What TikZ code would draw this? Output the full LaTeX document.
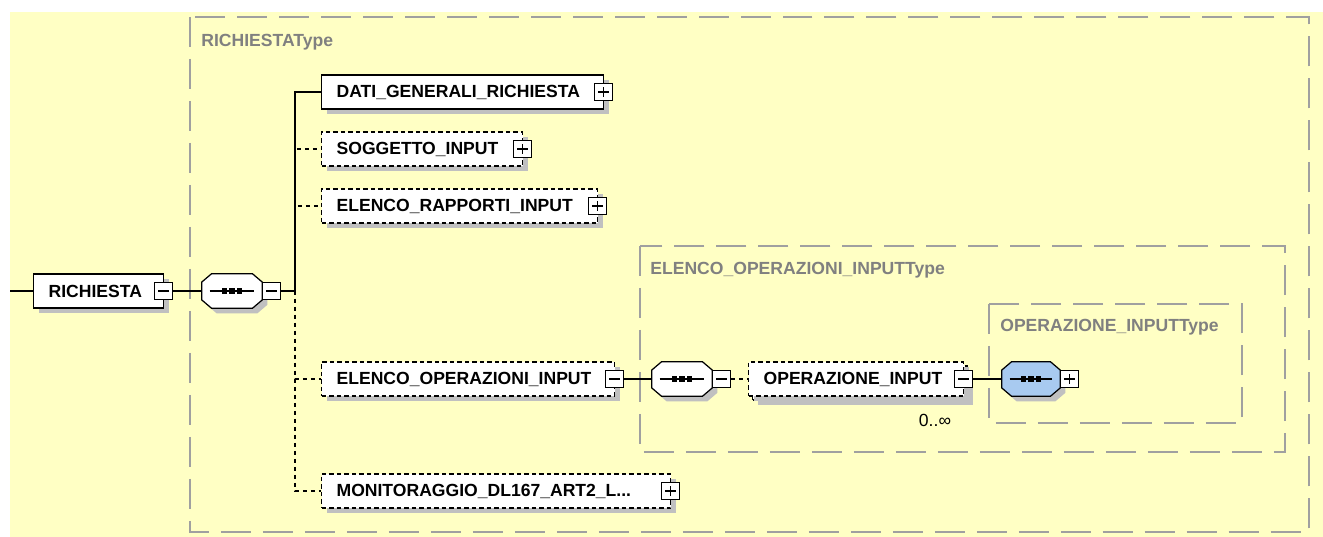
\documentclass[tikz,border=0pt]{standalone}
\usepackage{fontspec}
\setmainfont{Liberation Sans}
\usepackage{tikz}
\usetikzlibrary{shadows}
\definecolor{paper}{RGB}{255,255,196}
\definecolor{typegray}{RGB}{160,160,160}
\definecolor{labelgray}{RGB}{128,128,128}
\definecolor{shadowgray}{RGB}{192,192,192}
\definecolor{seqblue}{RGB}{168,202,240}
\tikzset{
  shad/.style={drop shadow={shadow xshift=0.1cm, shadow yshift=-0.1cm, fill=shadowgray, opacity=1}},
  elem/.style={draw, fill=white, rectangle, anchor=west, minimum height=0.68cm, inner xsep=0.3cm, inner ysep=0pt, align=left, font=\bfseries\fontsize{10}{12}\selectfont, line width=0.7pt, shad},
  optelem/.style={elem, dash pattern=on 0.09cm off 0.06cm},
  pmbox/.style={draw, fill=white, rectangle, anchor=west, minimum width=0.36cm, minimum height=0.34cm, inner sep=0pt, line width=0.6pt},
  minusbox/.style={pmbox, path picture={\draw ([xshift=0.07cm]path picture bounding box.west) -- ([xshift=-0.07cm]path picture bounding box.east);}},
  plusbox/.style={pmbox, path picture={\draw ([xshift=0.07cm]path picture bounding box.west) -- ([xshift=-0.07cm]path picture bounding box.east);
                                      \draw ([yshift=0.07cm]path picture bounding box.south) -- ([yshift=-0.07cm]path picture bounding box.north);}},
  seqbox/.style={rectangle, minimum width=1.2cm, minimum height=0.68cm, inner sep=0pt},
  typebox/.style={draw=typegray, line width=1.1pt, dash pattern=on 0.6cm off 0.24cm},
  typelabel/.style={anchor=west, text=labelgray, font=\bfseries\fontsize{10}{12}\selectfont, inner sep=0pt},
  conn/.style={line width=0.6pt},
  optconn/.style={conn, dash pattern=on 0.08cm off 0.08cm}
}
\newcommand\seqoct[2]{%
  \foreach \shx/\col in {0.1/shadowgray, 0/#2}
    \filldraw[fill=\col, draw=\ifdim\shx pt>0pt none\else black\fi, line width=0.7pt, transform canvas={shift={(\shx cm,-\shx cm)}}]
      ([xshift=0.2cm]#1.north west) -- ([xshift=-0.2cm]#1.north east) -- ([yshift=-0.17cm]#1.north east)
      -- ([yshift=0.17cm]#1.south east) -- ([xshift=-0.2cm]#1.south east) -- ([xshift=0.2cm]#1.south west)
      -- ([yshift=0.17cm]#1.south west) -- ([yshift=-0.17cm]#1.north west) -- cycle;
  \draw[line width=0.7pt] ([xshift=0.16cm]#1.west) -- ([xshift=-0.16cm]#1.east);
  \foreach \dx in {-0.15,0,0.15}
    \fill ([xshift=\dx cm]#1.center) ++(-0.055cm,-0.055cm) rectangle ++(0.11cm,0.11cm);
}
\begin{document}
\begin{tikzpicture}[x=0.02cm, y=-0.02cm]
  \useasboundingbox (0,0) rectangle (1323,537);
  \fill[white] (0,0) rectangle (1323,537);
  \fill[paper] (10,12) rectangle (1323,537);

  \draw[typebox] (190,17) rectangle (1309,532);
  \draw[typebox] (640,246) rectangle (1285,452);
  \draw[typebox] (989,304) rectangle (1242,423);
  \node (richtype) at (201,42)[typelabel]{RICHIESTAType};
  \node (elopType) at (650,270)[typelabel]{ELENCO\_OPERAZIONI\_INPUTType};
  \node (opType) at (1000,327)[typelabel]{OPERAZIONE\_INPUTType};

  \coordinate (entry) at (10,291);
  \coordinate (trunk) at (295,291);

  \node (richiesta) at (33,291)[elem, text width=2.0cm]{RICHIESTA};
  \node (richm) at ([xshift=-0.2cm]richiesta.east)[minusbox]{};
  \node (seq1) at (232,291)[seqbox]{};
  \seqoct{seq1}{white}
  \node (seq1m) at (seq1.east)[minusbox]{};

  \node (dati) at (321,92)[elem, text width=5.04cm]{DATI\_GENERALI\_RICHIESTA};
  \node (datip) at ([xshift=-0.2cm]dati.east)[plusbox]{};
  \node (sogg) at (321,149)[optelem, text width=3.42cm]{SOGGETTO\_INPUT};
  \node (soggp) at ([xshift=-0.2cm]sogg.east)[plusbox]{};
  \node (elrap) at (321,206)[optelem, text width=4.92cm]{ELENCO\_RAPPORTI\_INPUT};
  \node (elrapp) at ([xshift=-0.2cm]elrap.east)[plusbox]{};
  \node (elop) at (321,379)[optelem, text width=5.26cm]{ELENCO\_OPERAZIONI\_INPUT};
  \node (elopm) at ([xshift=-0.2cm]elop.east)[minusbox]{};
  \node (monit) at (321,491)[optelem, text width=6.38cm]{MONITORAGGIO\_DL167\_ART2\_L...};
  \node (monitp) at ([xshift=-0.2cm]monit.east)[plusbox]{};

  \node (seq2) at (682,379)[seqbox]{};
  \seqoct{seq2}{white}
  \node (seq2m) at (seq2.east)[minusbox]{};
  \node (opback) at (752,383)[optelem, minimum width=4.3cm]{};
  \node (opin) at (748,379)[optelem, text width=3.7cm]{OPERAZIONE\_INPUT};
  \node (opinm) at ([xshift=-0.2cm]opin.east)[minusbox]{};
  \node (occurs) at (935,420)[font=\fontsize{10}{12}\selectfont, inner sep=0pt]{0..∞};
  \node (seq3) at (1031,379)[seqbox, minimum width=1.16cm]{};
  \seqoct{seq3}{seqblue}
  \node (seq3p) at (seq3.east)[plusbox]{};

  \draw[conn] (entry) -- (richiesta);
  \draw[conn] (richm) -- (seq1);
  \draw[conn] (seq1m) -- (trunk);
  \draw[conn] (trunk) |- (dati);
  \draw[optconn] (trunk) |- (sogg);
  \draw[optconn] (trunk) |- (elrap);
  \draw[optconn] (trunk) |- (elop);
  \draw[optconn] (trunk) |- (monit);
  \draw[conn] (elopm) -- (seq2);
  \draw[optconn] (seq2m) -- (opin);
  \draw[conn] (opinm) -- (seq3);
\end{tikzpicture}
\end{document}
